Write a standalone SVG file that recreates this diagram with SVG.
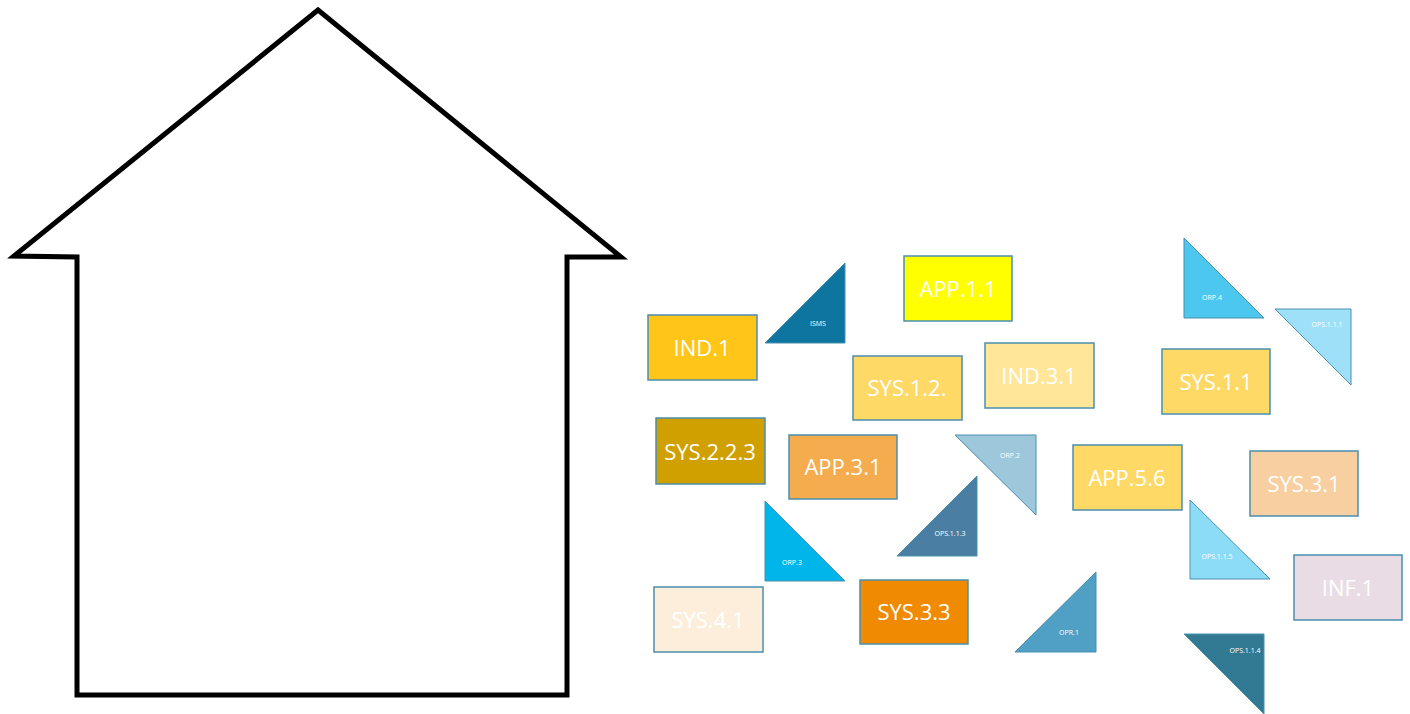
<svg xmlns="http://www.w3.org/2000/svg" width="1410" height="714" viewBox="0 0 1410 714">
<style>
.box{stroke:#4a8fae;stroke-width:1.5}
.tri{stroke:#4a8fae;stroke-width:1}
.bt{font-family:"Open Sans","Liberation Sans",sans-serif;font-size:22px;fill:#ffffff;text-anchor:middle;dominant-baseline:central}
.tt{font-family:"Open Sans","Liberation Sans",sans-serif;font-size:7px;fill:#ffffff;text-anchor:middle;dominant-baseline:central}
</style>
<rect width="1410" height="714" fill="#ffffff"/>
<g id="house">
<polygon points="318,10 14,256 77,257 77,695 567,695 567,257 621,257" fill="#ffffff" stroke="#000000" stroke-width="5" stroke-linejoin="miter"/>
</g>
<g id="connectors"></g>
<g id="app11"><rect class="box" x="904" y="256" width="108" height="65" fill="#ffff00"/><text class="bt" x="958" y="288">APP.1.1</text></g>
<g id="ind1"><rect class="box" x="648" y="315" width="109" height="65" fill="#ffc619"/><text class="bt" x="702" y="347">IND.1</text></g>
<g id="sys12"><rect class="box" x="853" y="356" width="109" height="64" fill="#ffd966"/><text class="bt" x="907" y="387">SYS.1.2.</text></g>
<g id="ind31"><rect class="box" x="985" y="343" width="109" height="65" fill="#ffe699"/><text class="bt" x="1039" y="375">IND.3.1</text></g>
<g id="sys11"><rect class="box" x="1162" y="349" width="108" height="65" fill="#ffd966"/><text class="bt" x="1216" y="381">SYS.1.1</text></g>
<g id="sys223"><rect class="box" x="656" y="418" width="109" height="66" fill="#cfa000"/><text class="bt" x="710" y="451">SYS.2.2.3</text></g>
<g id="app31"><rect class="box" x="789" y="435" width="108" height="64" fill="#f4ac4e"/><text class="bt" x="843" y="466">APP.3.1</text></g>
<g id="app56"><rect class="box" x="1073" y="445" width="109" height="65" fill="#ffd966"/><text class="bt" x="1127" y="477">APP.5.6</text></g>
<g id="sys31"><rect class="box" x="1250" y="451" width="108" height="65" fill="#f8cfa0"/><text class="bt" x="1304" y="483">SYS.3.1</text></g>
<g id="sys41"><rect class="box" x="654" y="587" width="109" height="65" fill="#fdeedc"/><text class="bt" x="708" y="619">SYS.4.1</text></g>
<g id="sys33"><rect class="box" x="860" y="580" width="108" height="64" fill="#f08a00"/><text class="bt" x="914" y="611">SYS.3.3</text></g>
<g id="inf1"><rect class="box" x="1294" y="555" width="108" height="65" fill="#eadce4"/><text class="bt" x="1348" y="587">INF.1</text></g>
<g id="isms"><polygon class="tri" points="765,343 845,343 845,263" fill="#0e75a0"/><text class="tt" x="818" y="323">ISMS</text></g>
<g id="orp4"><polygon class="tri" points="1184,238 1184,318 1264,318" fill="#4cc8f0"/><text class="tt" x="1212" y="297">ORP.4</text></g>
<g id="ops111"><polygon class="tri" points="1275,309 1351,309 1351,385" fill="#9ee0f8" stroke="#9ee0f8"/><text class="tt" x="1327" y="324">OPS.1.1.1</text></g>
<g id="orp2"><polygon class="tri" points="955,435 1036,435 1036,515" fill="#9dc8db"/><text class="tt" x="1010" y="455">ORP.2</text></g>
<g id="ops113"><polygon class="tri" points="897,556 977,556 977,476" fill="#4a7fa3"/><text class="tt" x="950" y="533">OPS.1.1.3</text></g>
<g id="orp3"><polygon class="tri" points="765,501 765,581 845,581" fill="#00b5ea"/><text class="tt" x="792" y="562">ORP.3</text></g>
<g id="opr1"><polygon class="tri" points="1015,652 1096,652 1096,572" fill="#4fa0c4"/><text class="tt" x="1069" y="632">OPR.1</text></g>
<g id="ops115"><polygon class="tri" points="1190,500 1190,579 1270,579" fill="#8ddcf7"/><text class="tt" x="1217" y="556">OPS.1.1.5</text></g>
<g id="ops114"><polygon class="tri" points="1184,634 1264,634 1264,714" fill="#327a93"/><text class="tt" x="1245" y="650">OPS.1.1.4</text></g>
</svg>
